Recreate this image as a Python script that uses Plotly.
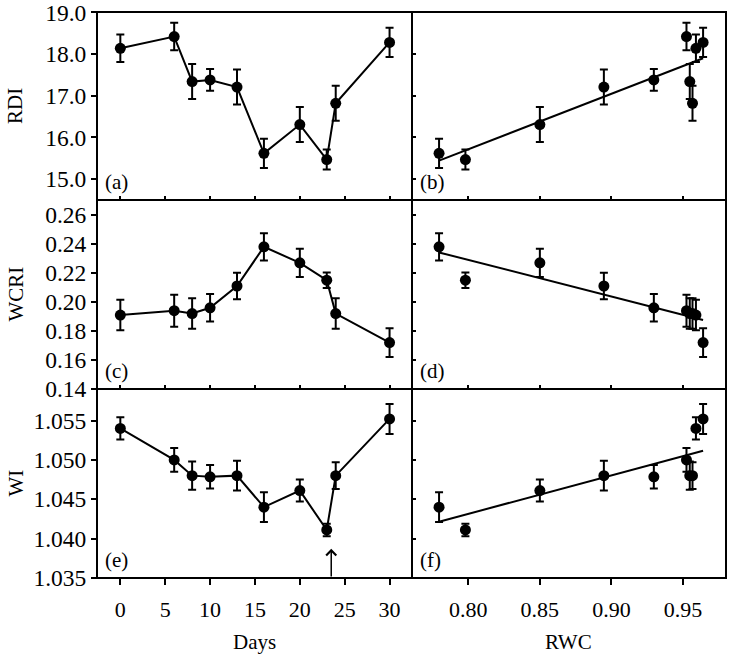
import numpy as np
import plotly.graph_objects as go
from plotly.subplots import make_subplots

# ---- data ----
days = [0, 6, 8, 10, 13, 16, 20, 23, 24, 30]
rwc = [0.959, 0.9524, 0.9547, 0.9296, 0.8947, 0.7796, 0.850, 0.798, 0.9566, 0.964]

rdi = [18.14, 18.42, 17.34, 17.38, 17.21, 15.62, 16.31, 15.47, 16.82, 18.28]
rdi_err = [0.33, 0.33, 0.42, 0.26, 0.42, 0.35, 0.42, 0.24, 0.42, 0.35]

wcri = [0.191, 0.194, 0.192, 0.196, 0.211, 0.238, 0.227, 0.215, 0.192, 0.172]
wcri_err = [0.0105, 0.011, 0.0105, 0.0095, 0.0092, 0.0094, 0.0097, 0.0054, 0.0105, 0.0099]

wi = [1.0540, 1.0500, 1.0480, 1.04785, 1.0480, 1.0440, 1.0461, 1.0411, 1.0480, 1.0552]
wi_err = [0.0014, 0.0015, 0.0018, 0.0015, 0.0019, 0.0019, 0.0014, 0.0008, 0.0017, 0.0019]

panel_labels = ["(a)", "(b)", "(c)", "(d)", "(e)", "(f)"]
y_titles = ["RDI", "WCRI", "WI"]
arrow_day = 23.5

FONT = "Liberation Serif, Times New Roman, serif"
FS = 21
XTFS = 22
YTFS = 23.5

fig = make_subplots(rows=3, cols=2, horizontal_spacing=0, vertical_spacing=0)

series = [(rdi, rdi_err), (wcri, wcri_err), (wi, wi_err)]
for r, (vals, errs) in enumerate(series, start=1):
    fig.add_trace(go.Scatter(
        x=days, y=vals, mode="lines+markers",
        line=dict(color="black", width=2),
        marker=dict(color="black", size=11),
        error_y=dict(type="data", array=errs, color="black", thickness=2, width=4),
        showlegend=False), row=r, col=1)
    fig.add_trace(go.Scatter(
        x=rwc, y=vals, mode="markers",
        marker=dict(color="black", size=11),
        error_y=dict(type="data", array=errs, color="black", thickness=2, width=4),
        showlegend=False), row=r, col=2)
    slope, icpt = np.polyfit(rwc, vals, 1)
    xs = np.array([min(rwc), max(rwc)])
    fig.add_trace(go.Scatter(
        x=xs, y=slope * xs + icpt, mode="lines",
        line=dict(color="black", width=2), showlegend=False), row=r, col=2)

W, H = 734, 658
ml, mr, mt, mb = 97, 8, 12, 80
pw = W - ml - mr
ph = H - mt - mb
xsplit = (412 - ml) / pw
y1 = (578 - 389) / ph
y2 = (578 - 200) / ph

xdom = [[0, xsplit], [xsplit, 1]]
ydom = [[y2, 1], [y1, y2], [0, y1]]

yranges = [[14.5, 19.01], [0.14, 0.2703], [1.035, 1.059]]
ytickvals = [[15, 16, 17, 18, 19],
             [0.14, 0.16, 0.18, 0.20, 0.22, 0.24, 0.26],
             [1.035, 1.040, 1.045, 1.050, 1.055]]
yfmt = [".1f", ".2f", ".3f"]

axis_common = dict(showline=False, showgrid=False, zeroline=False, automargin=False,
                   tickcolor="black", tickwidth=1.5, ticklabeloverflow="allow")

for r in range(3):
    for c in range(2):
        idx = r * 2 + c + 1
        sfx = "" if idx == 1 else str(idx)
        bottom = (r == 2)
        xa = dict(axis_common, domain=xdom[c], anchor="y" + sfx,
                  tickfont=dict(family=FONT, size=XTFS, color="black"),
                  ticks="outside" if bottom else "inside",
                  ticklen=6 if bottom else 4,
                  showticklabels=bottom)
        if c == 0:
            xa.update(range=[-2.6, 32.5], tickvals=[0, 5, 10, 15, 20, 25, 30])
        else:
            xa.update(range=[0.7607, 0.98], tickvals=[0.80, 0.85, 0.90, 0.95],
                      tickformat=".2f")
        if bottom:
            xa.update(ticklabelstandoff=6)
        ya = dict(axis_common, domain=ydom[r], range=yranges[r], anchor="x" + sfx,
                  tickfont=dict(family=FONT, size=YTFS, color="black"),
                  tickvals=ytickvals[r], tickformat=yfmt[r])
        if c == 0:
            ya.update(ticks="outside", ticklen=5, showticklabels=True)
        else:
            ya.update(ticks="inside", ticklen=4, showticklabels=False)
        fig.layout["xaxis" + sfx] = xa
        fig.layout["yaxis" + sfx] = ya

# panel frames
frame = dict(color="black", width=2)
shapes = [dict(type="rect", xref="paper", yref="paper", x0=0, x1=1, y0=0, y1=1, line=frame),
          dict(type="line", xref="paper", yref="paper", x0=xsplit, x1=xsplit, y0=0, y1=1, line=frame),
          dict(type="line", xref="paper", yref="paper", x0=0, x1=1, y0=y1, y1=y1, line=frame),
          dict(type="line", xref="paper", yref="paper", x0=0, x1=1, y0=y2, y1=y2, line=frame)]

annotations = []
for i, lab in enumerate(panel_labels):
    idx = i + 1
    sfx = "" if idx == 1 else str(idx)
    annotations.append(dict(text=lab, xref="x" + sfx + " domain", yref="y" + sfx + " domain",
                            x=0.02, y=0.02, xanchor="left", yanchor="bottom",
                            showarrow=False, font=dict(family=FONT, size=FS, color="black")))
for r, t in enumerate(y_titles):
    yc = (ydom[r][0] + ydom[r][1]) / 2
    annotations.append(dict(text=t, xref="paper", yref="paper", x=(15 - ml) / pw, y=yc,
                            xanchor="center", yanchor="middle", textangle=-90,
                            showarrow=False, font=dict(family=FONT, size=FS, color="black")))
annotations.append(dict(text="Days", xref="paper", yref="paper",
                        x=(255 - ml) / pw, y=-(642 - (H - mb)) / ph,
                        xanchor="center", yanchor="middle", showarrow=False,
                        font=dict(family=FONT, size=FS, color="black")))
annotations.append(dict(text="RWC", xref="paper", yref="paper",
                        x=(568 - ml) / pw, y=-(642 - (H - mb)) / ph,
                        xanchor="center", yanchor="middle", showarrow=False,
                        font=dict(family=FONT, size=FS, color="black")))
annotations.append(dict(x=arrow_day, y=1.0387, xref="x5", yref="y5",
                        ax=arrow_day, ay=1.035, axref="x5", ayref="y5",
                        showarrow=True, arrowhead=4, arrowsize=1.3, arrowwidth=1.5,
                        arrowcolor="black", text=""))

fig.update_layout(width=W, height=H, margin=dict(l=ml, r=mr, t=mt, b=mb, autoexpand=False),
                  plot_bgcolor="white", paper_bgcolor="white",
                  annotations=annotations, shapes=shapes, showlegend=False,
                  font=dict(family=FONT, size=FS, color="black"))

fig.write_html("out.html", config={"displayModeBar": False},
               post_script="document.body.style.margin='0';document.body.style.overflow='hidden';")
